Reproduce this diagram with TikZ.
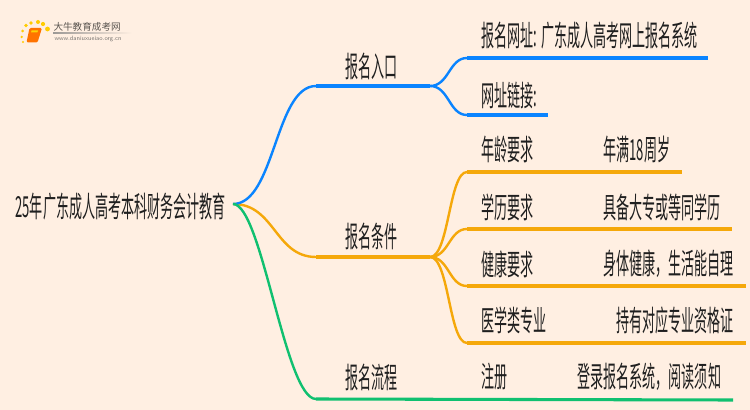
\documentclass[tikz,border=0pt]{standalone}
\usepackage{fontspec}
\newfontfamily\cjkfont[FakeStretch=0.45]{Noto Sans CJK SC}
\newfontfamily\logofont{Noto Sans CJK SC}
\definecolor{pagebg}{HTML}{FFEFE2}
\definecolor{bluelink}{HTML}{0A84FF}
\definecolor{orangelink}{HTML}{F5A80A}
\definecolor{greenlink}{HTML}{10C070}
\definecolor{logotext}{HTML}{5A5550}
\tikzset{
  every picture/.style={line width=0.75pt},
  label/.style={anchor=west,inner sep=0pt,font=\cjkfont\fontsize{21.75pt}{24pt}\selectfont,text=black!88},
  thinlink/.style={line width=1.8pt},
  mainlink/.style={line width=2.3pt}
}
\begin{document}
\begin{tikzpicture}[x=0.75pt,y=0.75pt,yscale=-1,xscale=1]
\useasboundingbox (0,0) rectangle (750,410);
\fill [pagebg] (0,0) rectangle (750,410);

% Logo
\foreach \dx/\dy/\dr in {26/25.5/1.8,31/23/1.9,38/22/2,43/24/2.1,47.5/29/2.4,22.7/31/1.5,21.7/37/1.3,23/42/1.1}
  \fill [orange!40!yellow] (\dx,\dy) circle [radius=\dr];
\fill [orange!90!red,rounded corners=1pt] (29.5,28) -- (42,28) -- (37.5,42.5) -- (26.5,42.5) -- cycle;
\fill [yellow!70!orange] (31.5,30.5) -- (38,30.5) -- (37.4,32.5) -- (31,32.5) -- cycle;
\fill [left color=logotext!60,right color=pagebg,draw=none] (53,33) rectangle (132,34);
% Text Node
\node (logoname) at (53,27) [anchor=west,inner sep=0pt,font=\logofont\fontsize{7.2pt}{9pt}\selectfont,text=logotext] {大牛教育成考网};
% Text Node
\node (logourl) at (54,39) [anchor=west,inner sep=0pt,font=\fontfamily{lmss}\fontsize{4.7pt}{6pt}\selectfont,text=logotext!80] {www.daniuxueiao.org.cn};

% Text Node
\node (root) at (15,207) [label] {25年广东成人高考本科财务会计教育};
% Text Node
\node (rukou) at (345,66) [label] {报名入口};
\node (tiaojian) at (345,236) [label] {报名条件};
\node (liucheng) at (345,377) [label] {报名流程};
% Text Node
\node (wangzhi) at (481,36) [label] {报名网址: 广东成人高考网上报名系统};
\node (lianjie) at (481,95) [label] {网址链接:};
% Text Node
\node (nianling) at (481,149) [label] {年龄要求};
\node (xueli) at (481,207) [label] {学历要求};
\node (jiankang) at (481,264) [label] {健康要求};
\node (yixue) at (481,320) [label] {医学类专业};
\node (zhuce) at (481,377) [label] {注册};
% Text Node
\node (nianman) at (603,149) [label] {年满18周岁};
\node (jubei) at (603,207) [label] {具备大专或等同学历};
\node (shenti) at (603,264) [label] {身体健康，生活能自理};
\node (chiyou) at (616,320) [label] {持有对应专业资格证};
\node (denglu) at (577,377) [label] {登录报名系统，阅读须知};

% Joints
\coordinate (rootout) at (233,204);
\coordinate (blueA) at (316,86);
\coordinate (blueB) at (430,86);
\coordinate (orangeA) at (316,257);
\coordinate (orangeB) at (430,257);
\coordinate (greenA) at (316,399);
\coordinate (greenB) at (733,400);
\coordinate (wangzhiA) at (467,58);
\coordinate (wangzhiB) at (708,58);
\coordinate (lianjieA) at (467,115);
\coordinate (lianjieB) at (548,115);
\coordinate (nianA) at (467,172);
\coordinate (nianB) at (682,172);
\coordinate (xueA) at (467,229);
\coordinate (xueB) at (732,229);
\coordinate (jianA) at (467,286);
\coordinate (jianB) at (746,286);
\coordinate (yiA) at (467,343);
\coordinate (yiB) at (746,343);

% Connection
\draw [thinlink,orangelink] (rootout) .. controls (275,204) and (275,257) .. (orangeA);
\draw [mainlink,orangelink] (orangeA) -- (orangeB);
% Connection
\draw [thinlink,bluelink] (rootout) .. controls (275,204) and (275,86) .. (blueA);
\draw [mainlink,bluelink] (blueA) -- (blueB);
% Connection
\draw [thinlink,greenlink] (rootout) .. controls (262,204) and (285,399) .. (greenA);
\draw [mainlink,greenlink] (greenA) -- (greenB);
% Connection
\foreach \a/\b/\y in {wangzhiA/wangzhiB/58,lianjieA/lianjieB/115} {
  \draw [thinlink,bluelink] (blueB) .. controls (449,86) and (449,\y) .. (\a);
  \draw [mainlink,bluelink] (\a) -- (\b);
}
% Connection
\foreach \a/\b/\y in {nianA/nianB/172,xueA/xueB/229,jianA/jianB/286,yiA/yiB/343} {
  \draw [thinlink,orangelink] (orangeB) .. controls (449,257) and (449,\y) .. (\a);
  \draw [mainlink,orangelink] (\a) -- (\b);
}
\end{tikzpicture}
\end{document}
